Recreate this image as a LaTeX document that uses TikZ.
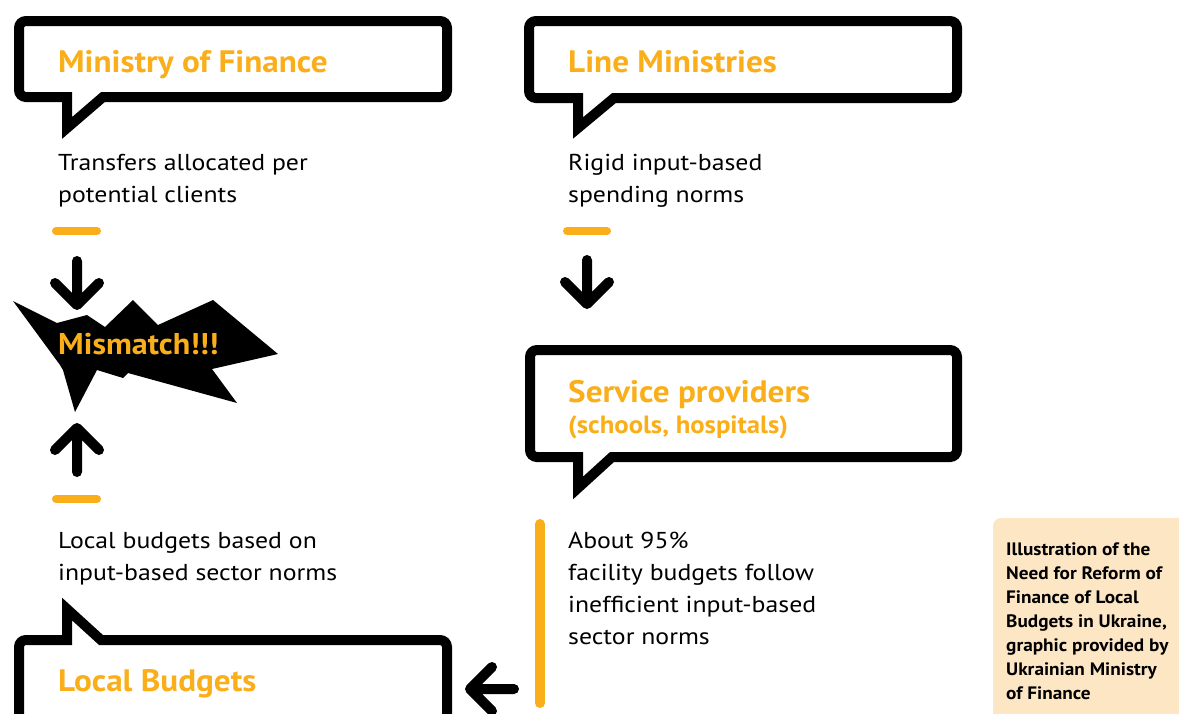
\documentclass[tikz,border=0pt]{standalone}
\usepackage{fontspec}
\setmainfont{PT Sans}
\newfontfamily\bodyfont{PT Sans}[FakeStretch=1.12]
\newfontfamily\headfont{PT Sans}[FakeStretch=1.07]
\usepackage{tikz}
\usetikzlibrary{positioning}
\definecolor{mforange}{RGB}{250,174,26}
\definecolor{notebeige}{RGB}{253,230,196}
\tikzset{
  bubble/.style={line width=10pt, line join=miter, draw=black, fill=white},
  headtxt/.style={anchor=base west, inner sep=0pt, text=mforange, font=\headfont\bfseries\fontsize{31}{34}\selectfont},
  subtxt/.style={anchor=base west, inner sep=0pt, text=mforange, font=\headfont\bfseries\fontsize{25}{28}\selectfont},
  bodytxt/.style={anchor=base west, inner sep=0pt, align=left, font=\bodyfont\fontsize{23}{32}\selectfont},
  dashbar/.style={line width=8pt, line cap=round, draw=mforange},
  arrowline/.style={line width=10pt, line cap=round, line join=round},
  bigarrow/.pic={\draw[arrowline] (0,-22) -- (0,22) (-22,0) -- (0,22) -- (22,0);},
}

\begin{document}
\begin{tikzpicture}[x=1pt, y=-1pt]
\useasboundingbox (0,0) rectangle (1179,713);
\clip (0,0) rectangle (1179,713);

% speech bubbles
\draw[bubble] (67,128) -- (67,97) [rounded corners=7pt] -- (19,97) -- (19,21) -- (447,21) -- (447,97) [sharp corners] -- (103,97) -- cycle;
\draw[bubble] (578,128) -- (578,98) [rounded corners=7pt] -- (529,98) -- (529,21) -- (957,21) -- (957,98) [sharp corners] -- (614,98) -- cycle;
\draw[bubble] (578,488) -- (578,457) [rounded corners=7pt] -- (530,457) -- (530,350) -- (957,350) -- (957,457) [sharp corners] -- (612,457) -- cycle;
\draw[bubble] (67,609) -- (67,640) [rounded corners=7pt] -- (19,640) -- (19,760) -- (447,760) -- (447,640) [sharp corners] -- (101,640) -- cycle;

\node[headtxt] (mof) at (58,72) {Ministry of Finance};
\node[headtxt] (linemin) at (568,72) {Line Ministries};
\node[headtxt] (provider) at (568,402) {Service providers};
\node[subtxt] (providersub) at (568,433) {(schools, hospitals)};
\node[headtxt] (localbud) at (58,691) {Local Budgets};

% notes under the bubbles (anchored on the last line)
\node[bodytxt] (mofnote) at (58,202) {Transfers allocated per\\potential clients};
\node[bodytxt] (linenote) at (568,202) {Rigid input-based\\spending norms};
\node[bodytxt] (localnote) at (58,580) {Local budgets based on\\input-based sector norms};
\node[bodytxt] (providernote) at (568,644) {About 95\%\\facility budgets follow\\inefficient input-based\\sector norms};

% orange markers
\draw[dashbar] (56,231) -- (97,231);
\draw[dashbar] (567,231) -- (607,231);
\draw[dashbar] (56,499) -- (97,499);
\draw[dashbar, line width=10pt] (540,524) -- (540,703);

% arrows
\pic at (77,283) {bigarrow};
\pic[rotate=180] at (77,450) {bigarrow};
\pic at (587,282) {bigarrow};
\pic[rotate=-90] at (492,689) {bigarrow};

% mismatch burst
\fill[black] (13,301) -- (57,323) -- (87,315) -- (105,327) -- (133,300) -- (158,325) -- (213,300)
  -- (278,354) -- (212,369) -- (237,403) -- (128,373) -- (123,378) -- (97,370) -- (75,412)
  -- (63,370) -- (60,365) -- cycle;
\node[headtxt, font=\headfont\bfseries\fontsize{30}{32}\selectfont] (mismatch) at (58,354) {Mismatch!!!};

% caption
\fill[notebeige, rounded corners=8pt] (993,518) rectangle (1200,730);
\node[bodytxt, font=\headfont\bfseries\fontsize{18}{24}\selectfont] (caption) at (1006,699)
  {Illustration of the\\Need for Reform of\\Finance of Local\\Budgets in Ukraine,\\graphic provided by\\Ukrainian Ministry\\of Finance};
\end{tikzpicture}
\end{document}
